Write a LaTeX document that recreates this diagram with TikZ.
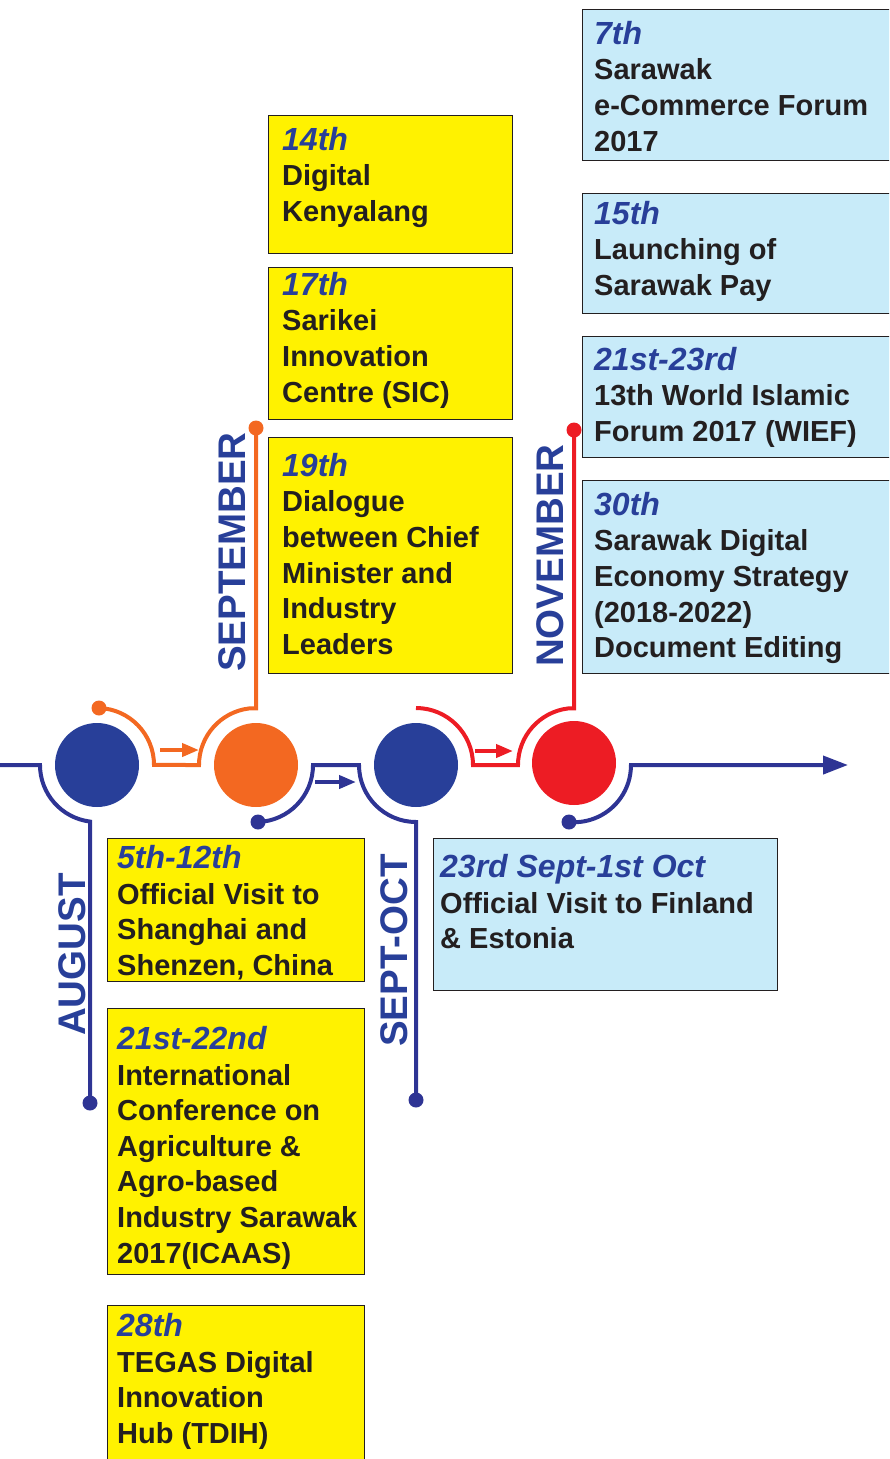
\documentclass[tikz,border=0pt]{standalone}
\usepackage{fontspec}
\setmainfont{Liberation Sans}
\usetikzlibrary{arrows.meta}
\definecolor{tlblue}{RGB}{40,63,153}
\definecolor{tlline}{RGB}{46,52,148}
\definecolor{tlorange}{RGB}{243,104,33}
\definecolor{tlred}{RGB}{237,28,36}
\definecolor{tlyellow}{RGB}{255,242,0}
\definecolor{tlcyan}{RGB}{200,235,249}
\definecolor{tltext}{RGB}{35,31,32}
\newcommand{\evfont}{\fontsize{29}{35.6}\selectfont\bfseries}
\newcommand{\monthfont}{\fontsize{38.5}{40}\selectfont\bfseries}
\newcommand{\evdate}[1]{\textcolor{tlblue}{\fontsize{32}{35.6}\selectfont\itshape #1}}

\begin{document}
\begin{tikzpicture}[x=1pt,y=-1pt,
  evbox/.style={draw=tltext,line width=1.2pt,anchor=north west,inner sep=0},
  evtext/.style={anchor=north west,inner sep=0,align=left,text=tltext,font=\evfont},
  month/.style={rotate=90,anchor=base west,inner sep=0,text=tlblue,font=\monthfont},
  stage/.style={circle,inner sep=0,minimum size=84pt},
  enddot/.style={circle,inner sep=0,minimum size=15pt},
  route/.style={line width=4pt},
  nudge/.style={line width=4pt,-{Triangle[length=17pt,width=13pt]}}]
\useasboundingbox (0,0) rectangle (889,1459);
\clip (0,0) rectangle (889,1459);

% november boxes
\node[evbox,fill=tlcyan,minimum width=320,minimum height=151] (n7) at (582,9) {};
\node[evtext] (n7t) at (594,21) {\evdate{7th}\\Sarawak\\e-Commerce Forum\\2017};
\node[evbox,fill=tlcyan,minimum width=320,minimum height=120] (n15) at (582,193) {};
\node[evtext] (n15t) at (594,201) {\evdate{15th}\\Launching of\\Sarawak Pay};
\node[evbox,fill=tlcyan,minimum width=320,minimum height=121] (n21) at (582,336) {};
\node[evtext] (n21t) at (594,347) {\evdate{21st-23rd}\\13th World Islamic\\Forum 2017 (WIEF)};
\node[evbox,fill=tlcyan,minimum width=320,minimum height=193] (n30) at (582,480) {};
\node[evtext] (n30t) at (594,492) {\evdate{30th}\\Sarawak Digital\\Economy Strategy\\(2018-2022)\\Document Editing};

% september boxes
\node[evbox,fill=tlyellow,minimum width=244,minimum height=138] (s14) at (268,115) {};
\node[evtext] (s14t) at (282,127) {\evdate{14th}\\Digital\\Kenyalang};
\node[evbox,fill=tlyellow,minimum width=244,minimum height=152] (s17) at (268,267) {};
\node[evtext] (s17t) at (282,272) {\evdate{17th}\\Sarikei\\Innovation\\Centre (SIC)};
\node[evbox,fill=tlyellow,minimum width=244,minimum height=236] (s19) at (268,437) {};
\node[evtext] (s19t) at (282,453) {\evdate{19th}\\Dialogue\\between Chief\\Minister and\\Industry\\Leaders};

% august boxes
\node[evbox,fill=tlyellow,minimum width=257,minimum height=143] (a5) at (107,838) {};
\node[evtext] (a5t) at (117,845) {\evdate{5th-12th}\\Official Visit to\\Shanghai and\\Shenzen, China};
\node[evbox,fill=tlyellow,minimum width=257,minimum height=266] (a21) at (107,1008) {};
\node[evtext] (a21t) at (117,1026) {\evdate{21st-22nd}\\International\\Conference on\\Agriculture \&\\Agro-based\\Industry Sarawak\\2017(ICAAS)};
\node[evbox,fill=tlyellow,minimum width=257,minimum height=170] (a28) at (107,1305) {};
\node[evtext] (a28t) at (117,1313) {\evdate{28th}\\TEGAS Digital\\Innovation\\Hub (TDIH)};

% sept-oct box
\node[evbox,fill=tlcyan,minimum width=344,minimum height=152] (so23) at (433,838) {};
\node[evtext] (so23t) at (440,854) {\evdate{23rd Sept-1st Oct}\\Official Visit to Finland\\\& Estonia};

% month labels
\node[month] (mAug) at (85,1036) {AUGUST};
\node[month] (mSep) at (245,672) {SEPTEMBER};
\node[month] (mSo) at (407,1047) {SEPT-OCT};
\node[month] (mNov) at (563,667) {NOVEMBER};

% stages
\node[stage,fill=tlblue] (aug) at (97,765) {};
\node[stage,fill=tlorange] (sep) at (256,765) {};
\node[stage,fill=tlblue] (sepoct) at (416,765) {};
\node[stage,fill=tlred] (nov) at (574,763) {};

% end dots
\node[enddot,fill=tlline] (augend) at (90,1103) {};
\node[enddot,fill=tlorange] (sepstart) at (99,708) {};
\node[enddot,fill=tlorange] (sepend) at (256,428) {};
\node[enddot,fill=tlline] (sostart) at (258,822) {};
\node[enddot,fill=tlline] (soend) at (416,1100) {};
\node[enddot,fill=tlred] (novend) at (574,430) {};
\node[enddot,fill=tlline] (nextstart) at (569,822) {};
\coordinate (lineleft) at (0,765);
\coordinate (novstart) at (416,708);
\coordinate (tip) at (848,765);

% routes
\draw[route,tlline] (lineleft) -- (40,765) arc[start angle=180,end angle=97,radius=57] -- (augend.center);
\draw[route,tlorange] (sepstart.center) arc[start angle=272,end angle=360,radius=57] -- (199,765)
  arc[start angle=180,end angle=263,radius=57] -| (sepend.center);
\draw[route,tlline] (sostart.center) arc[start angle=88,end angle=0,radius=57] -- (359,765)
  arc[start angle=180,end angle=90,radius=57] -- (soend.center);
\draw[route,tlred] (novstart) arc[start angle=270,end angle=360,radius=57] -- (518,765)
  arc[start angle=180,end angle=263,radius=57] -| (novend.center);
\draw[route,tlline,-{Triangle[length=25pt,width=18pt]}] (nextstart.center)
  arc[start angle=95,end angle=0,radius=57] -- (tip);

% small arrows
\coordinate (o1) at (160,750); \coordinate (o2) at (199,750);
\coordinate (b1) at (315,782); \coordinate (b2) at (356,782);
\coordinate (r1) at (475,751); \coordinate (r2) at (513,751);
\draw[nudge,tlorange] (o1) -- (o2);
\draw[nudge,tlline] (b1) -- (b2);
\draw[nudge,tlred] (r1) -- (r2);
\end{tikzpicture}
\end{document}
